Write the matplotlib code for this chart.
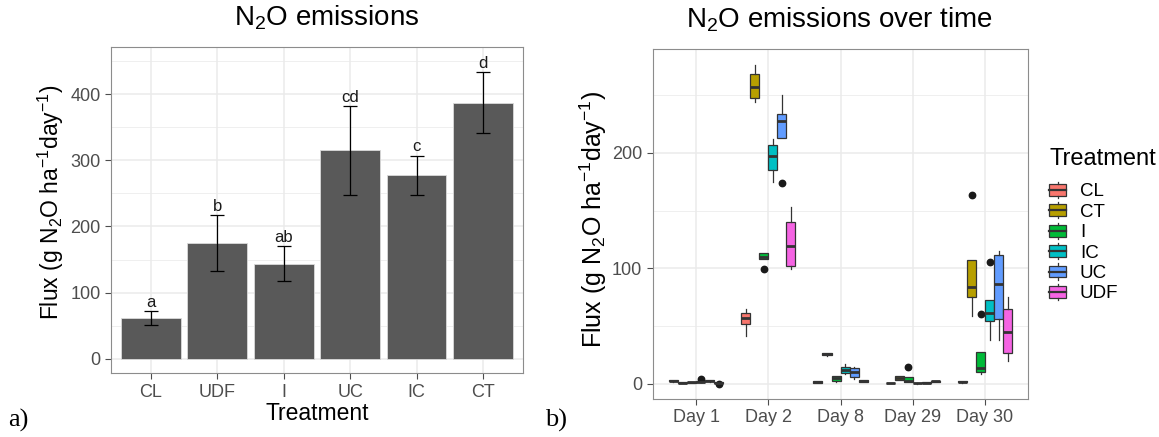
import numpy as np
import matplotlib
matplotlib.use("Agg")
import matplotlib.pyplot as plt
from matplotlib.patches import Rectangle, Patch
from matplotlib.lines import Line2D
from matplotlib.legend_handler import HandlerBase

plt.rcParams['font.family'] = ['Liberation Sans', 'DejaVu Sans']
plt.rcParams['mathtext.fontset'] = 'custom'
plt.rcParams['mathtext.rm'] = 'Liberation Sans'
plt.rcParams['mathtext.it'] = 'Liberation Sans:italic'
plt.rcParams['mathtext.default'] = 'regular'

# ---- panel a: mean flux per treatment ----
bar_treatments = ["CL", "UDF", "I", "UC", "IC", "CT"]
bar_means = [62, 175, 144, 315, 277, 387]
bar_errors = [10, 42.5, 26, 67, 30, 45.5]
bar_letters = ["a", "b", "ab", "cd", "c", "d"]

# ---- panel b: boxplot stats, rows = days, cols = treatments ----
days = ["Day 1", "Day 2", "Day 8", "Day 29", "Day 30"]
treatments = ["CL", "CT", "I", "IC", "UC", "UDF"]
colors = ["#F8766D", "#B79F00", "#00BA38", "#00BFC4", "#619CFF", "#F564E3"]

box_med = [
    [2.5, 1.0, 1.2, 1.8, 2.4, 1.0],
    [57, 257, 110, 197, 228, 119.5],
    [1.5, 25.5, 4.5, 12, 10.4, 2.3],
    [0.6, 5, 2.5, 0.5, 1.0, 2.0],
    [1.7, 84, 14, 61, 86, 45],
]
box_q1 = [
    [2.0, 0.7, 0.8, 1.3, 1.9, 0.4],
    [51.5, 247.4, 107.7, 185.6, 213.3, 102],
    [1.0, 24.5, 2.0, 9.0, 6.0, 1.8],
    [0.3, 3.2, 1.7, 0.2, 0.6, 1.5],
    [1.2, 74.8, 9.9, 54.5, 55.7, 26.3],
]
box_q3 = [
    [3.0, 1.3, 1.6, 2.4, 3.0, 1.6],
    [61, 268.7, 112.9, 207, 234, 140.3],
    [2.0, 26.5, 6.7, 14.7, 13.9, 2.8],
    [0.9, 6.7, 5.5, 0.8, 1.4, 2.5],
    [2.2, 106.8, 27.2, 72.2, 111.4, 65],
]
box_whislo = [
    [1.8, 0.5, 0.6, 1.1, 1.7, 0.2],
    [41.6, 244, 107.7, 175, 213.3, 99.6],
    [0.8, 24, 1.8, 8.5, 4, 1.6],
    [0.2, 3.0, 1.5, 0.1, 0.5, 1.4],
    [1.0, 58.6, 8, 37.8, 37.8, 20],
]
box_whishi = [
    [3.2, 1.5, 1.8, 2.6, 3.2, 1.8],
    [65, 276, 112.9, 212, 250, 153],
    [2.2, 26.8, 6.9, 17, 14.5, 3.0],
    [1.0, 7.0, 5.7, 1.0, 1.6, 2.7],
    [2.4, 106.8, 27.2, 72.2, 114.9, 75.3],
]
box_fliers = [
    [[], [], [], [4.0], [], [-0.5]],
    [[], [], [99.3], [], [174], []],
    [[], [], [], [], [], []],
    [[], [], [14.7], [], [], []],
    [[], [163.4], [60.3], [105.6], [], []],
]

GRID = "#EBEBEB"
TICKC = "#4D4D4D"
BORDER = "#8C8C8C"


def style_axes(ax, minor_y):
    ax.set_facecolor("white")
    for s in ax.spines.values():
        s.set_color(BORDER)
        s.set_linewidth(0.8)
    ax.set_yticks(minor_y, minor=True)
    ax.grid(True, which="major", color=GRID, linewidth=1.1, zorder=0)
    ax.grid(True, which="minor", axis="y", color=GRID, linewidth=0.55, zorder=0)
    ax.set_axisbelow(True)
    ax.tick_params(which="major", colors=TICKC, labelcolor=TICKC, length=4, width=0.8, labelsize=13)
    ax.tick_params(which="minor", length=0)


fig = plt.figure(figsize=(11.59, 4.37), dpi=100)
W, H = 1159, 437

# panel a
ax1 = fig.add_axes([111 / W, 1 - 373.3 / H, (522.8 - 111) / W, (373.3 - 46.7) / H])
xa = np.arange(len(bar_treatments))
ax1.bar(xa, bar_means, width=0.9, color="#595959", edgecolor="#DADADA", linewidth=0.6, zorder=2)
ax1.errorbar(xa, bar_means, yerr=bar_errors, fmt="none", ecolor="black",
             elinewidth=0.9, capsize=4.8, capthick=0.9, zorder=3)
for xi, m, e, lab in zip(xa, bar_means, bar_errors, bar_letters):
    ax1.annotate(lab, (xi, m + e), xytext=(0, 3), textcoords="offset points",
                 ha="center", va="baseline", fontsize=12, color="#1A1A1A")
ax1.set_xticks(xa)
ax1.set_xticklabels(bar_treatments)
ax1.set_yticks([0, 100, 200, 300, 400])
style_axes(ax1, [50, 150, 250, 350, 450])
ax1.set_xlim(-0.6, len(bar_treatments) - 0.4)
ax1.set_ylim(-21.6, 471.4)
ax1.set_xlabel("Treatment", fontsize=16.5, labelpad=1)
ax1.set_ylabel("Flux (g N$_2$O ha$^{-1}$day$^{-1}$)", fontsize=16.5, labelpad=3)
ax1.yaxis.label.set_y(0.524)

# panel b
ax2 = fig.add_axes([652.7 / W, 1 - 399 / H, (1028.4 - 652.7) / W, (399 - 49.3) / H])
bw = 0.75 / len(treatments)
for i in range(len(days)):
    for j in range(len(treatments)):
        st = dict(med=box_med[i][j], q1=box_q1[i][j], q3=box_q3[i][j],
                  whislo=box_whislo[i][j], whishi=box_whishi[i][j],
                  fliers=box_fliers[i][j])
        pos = i + 1 + (j - (len(treatments) - 1) / 2) * bw
        ax2.bxp([st], positions=[pos], widths=bw, patch_artist=True,
                showcaps=False, manage_ticks=False,
                boxprops=dict(facecolor=colors[j], edgecolor="#333333", linewidth=0.9),
                medianprops=dict(color="#333333", linewidth=2.0),
                whiskerprops=dict(color="#333333", linewidth=0.9),
                flierprops=dict(marker="o", markersize=4.6, markerfacecolor="#1A1A1A",
                                markeredgecolor="#1A1A1A"),
                zorder=3)
ax2.set_xticks(np.arange(1, len(days) + 1))
ax2.set_xticklabels(days)
ax2.set_yticks([0, 100, 200])
style_axes(ax2, [50, 150, 250])
ax2.set_xlim(0.4, len(days) + 0.6)
ax2.set_ylim(-13.3, 289.8)
ax2.set_ylabel("Flux (g N$_2$O ha$^{-1}$day$^{-1}$)", fontsize=18, labelpad=2)
ax2.yaxis.label.set_y(0.514)

# titles and panel tags
fig.text(327 / W, 1 - 18 / H, "N$_2$O emissions", ha="center", va="center", fontsize=20)
fig.text(840 / W, 1 - 20 / H, "N$_2$O emissions over time", ha="center", va="center", fontsize=20)
fig.text(8 / W, 1 - 420 / H, "a)", family="Liberation Serif", fontsize=19, va="center")
fig.text(545 / W, 1 - 420 / H, "b)", family="Liberation Serif", fontsize=19, va="center")


class BoxKey(HandlerBase):
    def create_artists(self, legend, orig_handle, xdescent, ydescent, width, height, fontsize, trans):
        x0, y0 = -xdescent, -ydescent
        bh = height * 0.72
        by = y0 + (height - bh) / 2
        rect = Rectangle((x0, by), width, bh, facecolor=orig_handle.get_facecolor(),
                         edgecolor="#333333", linewidth=0.9, transform=trans)
        cx = x0 + width / 2
        med = Line2D([x0, x0 + width], [y0 + height / 2] * 2, color="#333333", lw=1.6, transform=trans)
        w1 = Line2D([cx, cx], [y0, by], color="#333333", lw=0.9, transform=trans)
        w2 = Line2D([cx, cx], [by + bh, y0 + height], color="#333333", lw=0.9, transform=trans)
        return [rect, med, w1, w2]


handles = [Patch(facecolor=c) for c in colors]
leg = fig.legend(handles, treatments, handler_map={Patch: BoxKey()}, title="Treatment",
                 loc="upper left", bbox_to_anchor=(1049 / W, 1 - 148 / H), frameon=False,
                 fontsize=13.5, title_fontsize=17, alignment="left", borderpad=0,
                 handlelength=0.92, handleheight=0.95, labelspacing=0.1, handletextpad=0.72,
                 borderaxespad=0)
leg._legend_box.sep = 8.5

fig.savefig("out.png", dpi=100)
